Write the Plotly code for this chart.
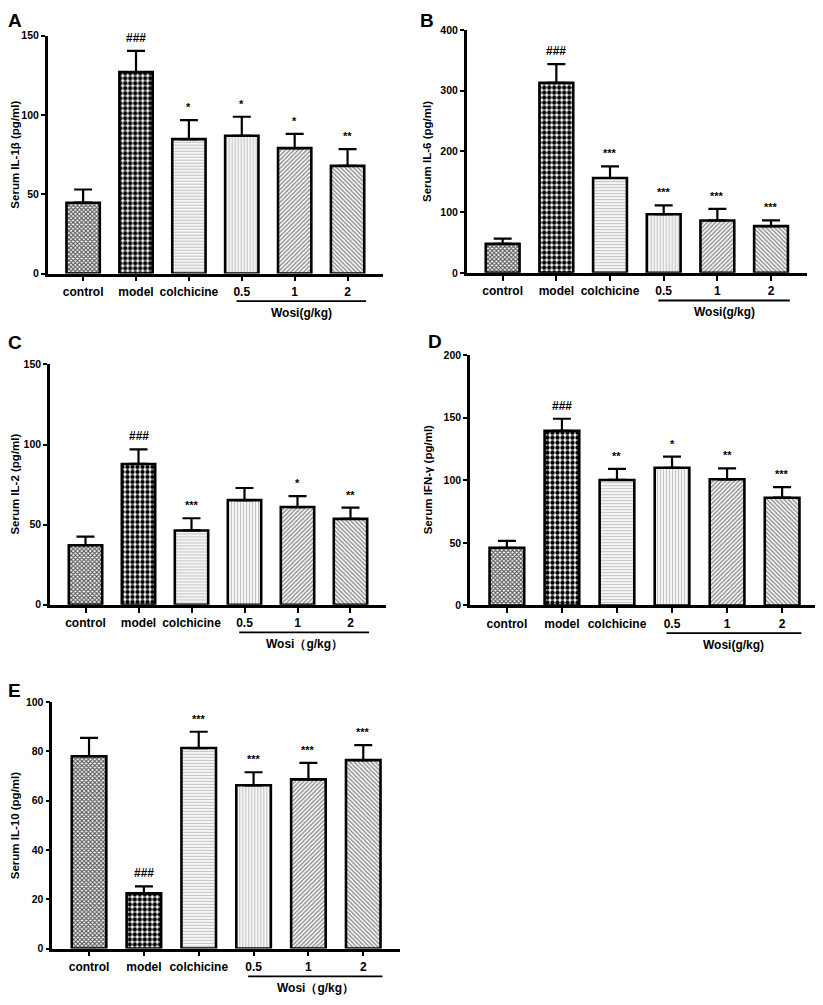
import plotly.graph_objects as go
from plotly.subplots import make_subplots

# the page body has an 8 px margin, so the figure is a bit smaller than the window
PAGE_OFF = 8
W, H = 815, 997
FONT = "Liberation Sans"

categories = ["control", "model", "colchicine", "0.5", "1", "2"]

# panel A - IL-1β
il1b_mean = [44.7, 127.1, 84.8, 86.9, 79.1, 67.9]
il1b_err = [8.3, 13.4, 12.0, 12.0, 9.0, 10.6]
il1b_sig = ["", "###", "*", "*", "*", "**"]

# panel B - IL-6
il6_mean = [47.7, 313.0, 156.3, 96.6, 86.3, 77.0]
il6_err = [8.8, 31.0, 19.0, 14.6, 19.0, 9.3]
il6_sig = ["", "###", "***", "***", "***", "***"]

# panel C - IL-2
il2_mean = [37.2, 87.9, 46.4, 65.3, 61.0, 53.6]
il2_err = [5.3, 9.1, 7.6, 7.6, 6.8, 7.0]
il2_sig = ["", "###", "***", "", "*", "**"]

# panel D - IFN-γ
ifng_mean = [46.1, 139.5, 100.3, 110.0, 100.8, 86.1]
ifng_err = [5.5, 9.7, 8.9, 8.9, 8.7, 8.4]
ifng_sig = ["", "###", "**", "*", "**", "***"]

# panel E - IL-10
il10_mean = [78.0, 22.4, 81.3, 66.2, 68.6, 76.4]
il10_err = [7.4, 2.8, 6.6, 5.3, 6.7, 6.1]
il10_sig = ["", "###", "***", "***", "***", "***"]


def px(x):
    return (x - PAGE_OFF) / W


def py(y):
    return 1 - (y - PAGE_OFF) / H


# fill patterns per group (control, model, colchicine, 0.5, 1, 2)
pat_shape = ["x", ".", "-", "|", "/", "\\"]
pat_bg = ["#585858", "#000000", "#c4c4c4", "#c4c4c4", "#929292", "#929292"]
pat_fg = ["#1a1a1a", "#ffffff", "#4a4a4a", "#4a4a4a", "#2a2a2a", "#2a2a2a"]
pat_size = [3, 5, 3, 3, 3, 3]
pat_solid = [0.6, 0.6, 0.45, 0.45, 0.5, 0.5]

panels = [
    dict(row=1, col=1, letter="A", mean=il1b_mean, err=il1b_err, sig=il1b_sig,
         ytitle="Serum IL-1β (pg/ml)", ymax=150, dtick=50,
         box=(47.7, 383, 30, 270.7), title_x=15, letter_xy=(14.5, 15), wosi="Wosi(g/kg)"),
    dict(row=1, col=2, letter="B", mean=il6_mean, err=il6_err, sig=il6_sig,
         ytitle="Serum IL-6 (pg/ml)", ymax=400, dtick=100,
         box=(466.7, 807, 24.3, 270), title_x=427.5, letter_xy=(426.5, 15), wosi="Wosi(g/kg)"),
    dict(row=2, col=1, letter="C", mean=il2_mean, err=il2_err, sig=il2_sig,
         ytitle="Serum IL-2 (pg/ml)", ymax=150, dtick=50,
         box=(50, 386, 362.7, 606), title_x=15, letter_xy=(14.5, 340), wosi="Wosi（g/kg）"),
    dict(row=2, col=2, letter="D", mean=ifng_mean, err=ifng_err, sig=ifng_sig,
         ytitle="Serum IFN-γ (pg/ml)", ymax=200, dtick=50,
         box=(470, 819, 353.3, 606.7), title_x=428, letter_xy=(435, 339), wosi="Wosi(g/kg)"),
    dict(row=3, col=1, letter="E", mean=il10_mean, err=il10_err, sig=il10_sig,
         ytitle="Serum IL-10 (pg/ml)", ymax=100, dtick=20,
         box=(52.3, 400, 704.3, 954), title_x=15, letter_xy=(14.5, 693), wosi="Wosi（g/kg）"),
]

fig = make_subplots(rows=3, cols=2, specs=[[{}, {}], [{}, {}], [{}, None]])

for i, p in enumerate(panels):
    fig.add_trace(go.Bar(
        x=categories, y=p["mean"], width=0.63,
        marker=dict(color=pat_bg, line=dict(color="black", width=2.6),
                    pattern=dict(shape=pat_shape, bgcolor=pat_bg, fgcolor=pat_fg,
                                 size=pat_size, solidity=pat_solid, fillmode="replace")),
        error_y=dict(type="data", symmetric=False, array=p["err"], arrayminus=[0] * 6,
                     color="black", thickness=2.2, width=9),
        showlegend=False,
    ), row=p["row"], col=p["col"])

    x0, x1, y0, y1 = p["box"]
    n = "" if i == 0 else str(i + 1)
    fig.layout["xaxis" + n].update(
        domain=[px(x0), px(x1)], type="category", range=[-0.67, 5.67],
        showline=True, linecolor="black", linewidth=2.5, showgrid=False, zeroline=False,
        ticks="outside", ticklen=5, tickwidth=2, tickcolor="black",
        tickfont=dict(family=FONT, size=12, color="black", weight="bold"))
    fig.layout["yaxis" + n].update(
        domain=[py(y1), py(y0)], range=[0, p["ymax"]], dtick=p["dtick"],
        showline=True, linecolor="black", linewidth=2.5, showgrid=False, zeroline=False,
        ticks="outside", ticklen=4, tickwidth=2, tickcolor="black",
        tickfont=dict(family=FONT, size=10.5, color="black", weight="bold"))

    xr, yr = "x" + n, "y" + n
    # significance marks above error bars (x by category index)
    for j, (m, e, s) in enumerate(zip(p["mean"], p["err"], p["sig"])):
        if s:
            hash_mark = s.startswith("#")
            fig.add_annotation(x=j, y=m + e, xref=xr, yref=yr, text=s, showarrow=False,
                               xanchor="center", yanchor="bottom", yshift=4 if hash_mark else 5,
                               font=dict(family=FONT, size=12 if hash_mark else 11,
                                         color="black", weight="bold"))

    # y title, panel letter
    fig.add_annotation(x=px(p["title_x"]), y=py((y0 + y1) / 2), xref="paper", yref="paper",
                       xanchor="center", yanchor="middle",
                       text=p["ytitle"], textangle=-90, showarrow=False,
                       font=dict(family=FONT, size=11.5, color="black", weight="bold"))
    lx, ly = p["letter_xy"]
    fig.add_annotation(x=px(lx), y=py(ly), xref="paper", yref="paper", text=p["letter"],
                       xanchor="center", yanchor="middle", showarrow=False,
                       font=dict(family=FONT, size=19, color="black", weight="bold"))

    # Wosi dose bracket
    fig.add_shape(type="line", xref=xr, yref="paper", x0=2.9, x1=5.35,
                  y0=py(y1 + 28), y1=py(y1 + 28), line=dict(color="black", width=1.8))
    fig.add_annotation(x=4.125, y=py(y1 + 40), xref=xr, yref="paper", text=p["wosi"],
                       xanchor="center", yanchor="middle", showarrow=False,
                       font=dict(family=FONT, size=12, color="black", weight="bold"))

fig.update_layout(width=W, height=H, margin=dict(l=0, r=0, t=0, b=0),
                  plot_bgcolor="white", paper_bgcolor="white")

fig.write_html("out.html")
